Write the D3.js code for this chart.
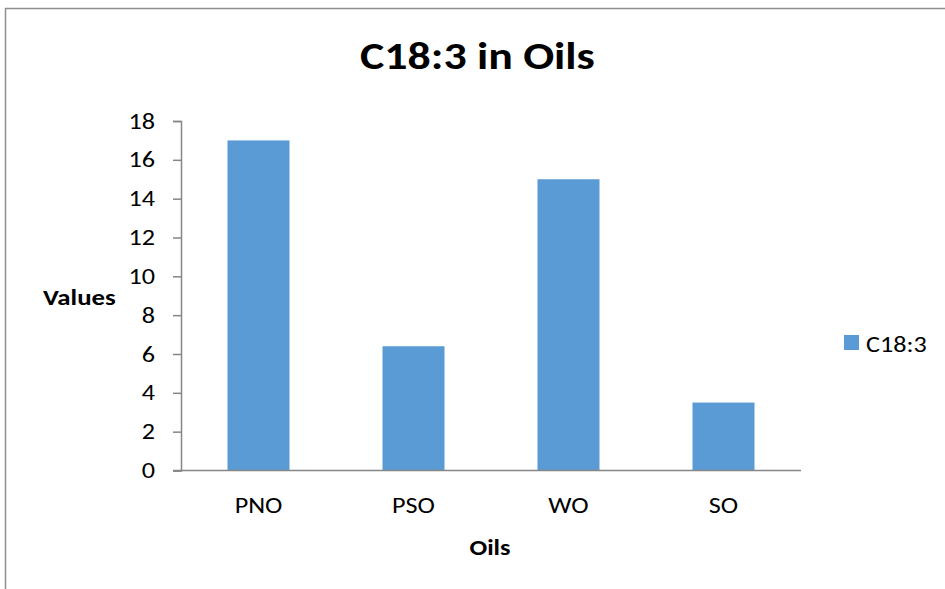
<!DOCTYPE html>
<html>
<head>
<meta charset="utf-8">
<script src="https://cdn.jsdelivr.net/npm/d3@7"></script>
<style>
html,body{margin:0;padding:0;background:#fff;}
svg{display:block;font-family:Carlito,Lato,"Open Sans",sans-serif;}
</style>
</head>
<body>
<svg id="chart" width="945" height="589"></svg>
<script>
const categories = ["PNO", "PSO", "WO", "SO"];
const seriesName = "C18:3";
const values = [17, 6.4, 15, 3.5];
const yTicks = [0, 2, 4, 6, 8, 10, 12, 14, 16, 18];
const chartTitle = "C18:3 in Oils";
const xTitle = "Oils";
const yTitle = "Values";

const svg = d3.select("#chart");
const W = 945, H = 589;
const plot = {left: 181, right: 801, top: 121, bottom: 470.5};
const barColor = "#5B9BD5";
const axisColor = "#868686";
const SX = 1.19; // horizontal text stretch of the reference

svg.append("rect").attr("width", W).attr("height", H).attr("fill", "#fff");
// outer chart border (cropped on right and bottom)
svg.append("rect")
  .attr("x", 5.5).attr("y", 8.5).attr("width", W + 20).attr("height", H + 20)
  .attr("fill", "none").attr("stroke", "#8e8e8e").attr("stroke-width", 1.5);

const x = d3.scaleBand().domain(categories).range([plot.left, plot.right]).paddingInner(0.6).paddingOuter(0.3);
const y = d3.scaleLinear().domain([0, 18]).range([plot.bottom, plot.top]);

// bars
svg.append("g").selectAll("rect").data(values).join("rect")
  .attr("x", (d, i) => x(categories[i]))
  .attr("y", d => y(d))
  .attr("width", x.bandwidth())
  .attr("height", d => y(0) - y(d))
  .attr("fill", barColor);

// y axis
const yAxis = svg.append("g").attr("transform", `translate(${plot.left},0)`)
  .call(d3.axisLeft(y).tickValues(yTicks).tickSize(8).tickPadding(18).tickFormat(d3.format("d")));
yAxis.select(".domain").attr("stroke", axisColor).attr("stroke-width", 1.5);
yAxis.selectAll(".tick line").attr("stroke", axisColor).attr("stroke-width", 1.5);
yAxis.selectAll(".tick text").attr("font-size", 22).attr("fill", "#000")
  .attr("font-family", "Carlito,Lato,sans-serif")
  .attr("x", -26 / SX).attr("transform", `scale(${SX},1)`);

// x axis
const xAxis = svg.append("g").attr("transform", `translate(0,${plot.bottom})`)
  .call(d3.axisBottom(x).tickSize(0).tickPadding(27).tickSizeOuter(0));
xAxis.select(".domain").attr("stroke", axisColor).attr("stroke-width", 1.5)
  .attr("d", `M${plot.left - 8},0H${plot.right}`);
xAxis.selectAll(".tick text").attr("font-size", 22).attr("fill", "#000")
  .attr("font-family", "Carlito,Lato,sans-serif")
  .attr("transform", `scale(${SX},1)`);

function stretchedText(px, py, str, size, weight, anchor) {
  return svg.append("text")
    .attr("transform", `translate(${px},${py}) scale(${SX},1)`)
    .attr("text-anchor", anchor).attr("font-size", size).attr("font-weight", weight)
    .attr("fill", "#000").text(str);
}

// titles
stretchedText(477.5, 69, chartTitle, 38.5, "bold", "middle");
stretchedText(490, 555, xTitle, 22, "bold", "middle");
stretchedText(43, 305, yTitle, 22.5, "bold", "start");

// legend
svg.append("rect").attr("x", 844).attr("y", 335).attr("width", 15).attr("height", 15).attr("fill", barColor);
stretchedText(866, 352, seriesName, 22, "normal", "start");
</script>
</body>
</html>
